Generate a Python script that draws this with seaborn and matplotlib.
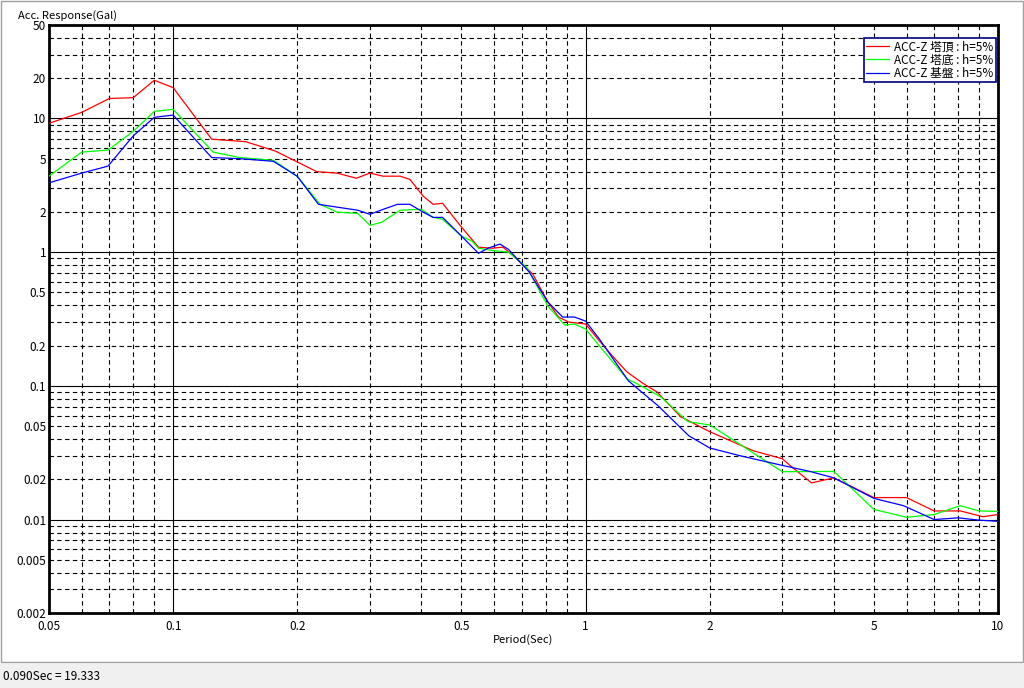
import numpy as np
import pandas as pd
import matplotlib.pyplot as plt
import seaborn as sns
from matplotlib.patches import Rectangle

# -------------------------------
# Data
# -------------------------------
period_top = [0.05, 0.06, 0.07, 0.08, 0.09, 0.10, 0.124, 0.15, 0.177, 0.223, 0.25, 0.278,
              0.30, 0.323, 0.355, 0.375, 0.404, 0.427, 0.45, 0.50, 0.55, 0.594, 0.63, 0.66,
              0.745, 0.81, 0.86, 0.91, 1.0, 1.08, 1.16, 1.26, 1.38, 1.49, 1.70, 2.0, 2.55,
              3.0, 3.13, 3.53, 4.0, 5.0, 6.0, 7.0, 8.1, 9.2, 10.0]
acc_top = [9.2, 11.1, 14.1, 14.3, 19.3, 17.0, 7.0, 6.7, 5.7, 4.0, 3.9, 3.57,
           3.9, 3.7, 3.7, 3.5, 2.62, 2.28, 2.32, 1.54, 1.09, 1.07, 1.09, 0.97,
           0.685, 0.424, 0.327, 0.30, 0.29, 0.217, 0.168, 0.127, 0.104, 0.09, 0.0588, 0.0454, 0.0327,
           0.0285, 0.0254, 0.0188, 0.0205, 0.0146, 0.0146, 0.0116, 0.0116, 0.0105, 0.0109]

period_bottom = [0.05, 0.06, 0.0695, 0.08, 0.09, 0.10, 0.125, 0.145, 0.175, 0.20, 0.227, 0.25,
                 0.28, 0.30, 0.32, 0.355, 0.40, 0.427, 0.45, 0.50, 0.53, 0.55, 0.594, 0.65,
                 0.72, 0.81, 0.89, 0.94, 1.0, 1.08, 1.26, 1.33, 1.52, 1.77, 2.0, 3.0, 3.13,
                 4.0, 5.0, 6.0, 7.0, 8.1, 9.0, 10.0]
acc_bottom = [3.7, 5.6, 5.8, 8.0, 11.3, 11.7, 5.6, 5.1, 4.86, 3.69, 2.28, 1.99,
              1.95, 1.59, 1.67, 2.06, 2.09, 1.82, 1.76, 1.32, 1.21, 1.07, 1.03, 1.0,
              0.77, 0.395, 0.285, 0.29, 0.266, 0.199, 0.113, 0.104, 0.083, 0.054, 0.051, 0.0228, 0.0228,
              0.0229, 0.0119, 0.0104, 0.0109, 0.0127, 0.0116, 0.0115]

period_base = [0.05, 0.06, 0.0695, 0.08, 0.09, 0.10, 0.124, 0.145, 0.175, 0.20, 0.225, 0.25,
               0.28, 0.30, 0.323, 0.35, 0.375, 0.404, 0.427, 0.45, 0.50, 0.55, 0.58, 0.62,
               0.65, 0.73, 0.81, 0.88, 0.94, 1.0, 1.08, 1.27, 1.5, 1.78, 2.0, 2.37, 3.0,
               3.5, 4.0, 5.0, 5.9, 7.0, 8.0, 9.0, 10.0]
acc_base = [3.3, 3.9, 4.4, 7.4, 10.2, 10.6, 5.1, 5.0, 4.78, 3.69, 2.28, 2.17,
            2.06, 1.92, 2.09, 2.28, 2.28, 1.99, 1.82, 1.82, 1.32, 0.98, 1.07, 1.15,
            1.05, 0.71, 0.424, 0.327, 0.327, 0.305, 0.224, 0.109, 0.0708, 0.0423, 0.0343, 0.030, 0.0254,
            0.0229, 0.0205, 0.0144, 0.0127, 0.010, 0.0103, 0.0099, 0.0097]

series_names = ['ACC-Z 塔頂 : h=5%', 'ACC-Z 塔底 : h=5%', 'ACC-Z 基盤 : h=5%']
series_colors = ['#ff0000', '#00ff00', '#0000ff']

x_labels = ['0.05', '0.1', '0.2', '0.5', '1', '2', '5', '10']
y_labels = ['0.002', '0.005', '0.01', '0.02', '0.05', '0.1', '0.2', '0.5',
            '1', '2', '5', '10', '20', '50']

df = pd.concat([
    pd.DataFrame({'period': period_top, 'acc': acc_top, 'name': series_names[0]}),
    pd.DataFrame({'period': period_bottom, 'acc': acc_bottom, 'name': series_names[1]}),
    pd.DataFrame({'period': period_base, 'acc': acc_base, 'name': series_names[2]}),
])

# -------------------------------
# Style
# -------------------------------
sns.set_style('white')
plt.rcParams['font.family'] = ['Noto Sans CJK JP', 'DejaVu Sans']
plt.rcParams['font.size'] = 8
plt.rcParams['text.color'] = 'black'

fig = plt.figure(figsize=(10.24, 6.88), dpi=100)
ax = fig.add_axes([49 / 1024, 75 / 688, 949 / 1024, 588 / 688])

sns.lineplot(data=df, x='period', y='acc', hue='name', palette=series_colors,
             estimator=None, sort=False, linewidth=0.9, ax=ax, zorder=3)

ax.set_xscale('log')
ax.set_yscale('log')
ax.set_xlim(0.05, 10)
ax.set_ylim(0.002, 50)

# major (decade) grid solid, minor grid dashed
x_major = [0.1, 1, 10]
x_minor = [m * d for d in [0.01, 0.1, 1] for m in range(2, 10) if 0.05 <= m * d < 10]
y_major = [0.01, 0.1, 1, 10]
y_minor = [m * d for d in [0.001, 0.01, 0.1, 1, 10] for m in range(2, 10) if 0.002 <= m * d <= 50]

def fmt(v):
    return ('%g' % round(v, 4))

ax.set_xticks(x_major, [fmt(v) if fmt(v) in x_labels else '' for v in x_major])
ax.set_xticks(x_minor, [fmt(v) if fmt(v) in x_labels else '' for v in x_minor], minor=True)
ax.set_yticks(y_major, [fmt(v) if fmt(v) in y_labels else '' for v in y_major])
ax.set_yticks(y_minor, [fmt(v) if fmt(v) in y_labels else '' for v in y_minor], minor=True)

ax.grid(which='major', color='black', linestyle='-', linewidth=0.8)
ax.grid(which='minor', color='black', linestyle=(0, (4, 3)), linewidth=0.8)
ax.tick_params(which='both', length=0, labelsize=8.5, colors='black')
ax.tick_params(axis='y', which='both', pad=2)
ax.tick_params(axis='x', which='both', pad=5)

for s in ax.spines.values():
    s.set_visible(True)
    s.set_color('black')
    s.set_linewidth(2)

ax.set_xlabel('Period(Sec)', fontsize=8, labelpad=1, color='black')
ax.set_ylabel('')
fig.text(18 / 1024, 1 - 16 / 688, 'Acc. Response(Gal)', fontsize=8, va='center', ha='left')

handles, labels = ax.get_legend_handles_labels()
leg = ax.legend(handles, labels, loc='upper right', bbox_to_anchor=(0.998, 0.978),
                prop={'size': 8.5}, frameon=True, fancybox=False, framealpha=1,
                edgecolor='#000080', borderpad=0.2, labelspacing=0.02,
                handlelength=1.9, handletextpad=0.5, borderaxespad=0)
leg.get_frame().set_linewidth(1.2)
leg.set_zorder(5)

# window frame and status bar
fig.patches.append(Rectangle((0.5 / 1024, 26.5 / 688), 1022 / 1024, 661 / 688,
                             transform=fig.transFigure, fill=False,
                             edgecolor='#a0a0a0', linewidth=1, zorder=0))
fig.patches.append(Rectangle((0, 0), 1, 24 / 688, transform=fig.transFigure,
                             facecolor='#f0f0f0', edgecolor='none', zorder=0))
fig.text(3 / 1024, 12 / 688, '0.090Sec = 19.333', fontsize=8.5, va='center', ha='left')

fig.savefig('out.png', dpi=100)
